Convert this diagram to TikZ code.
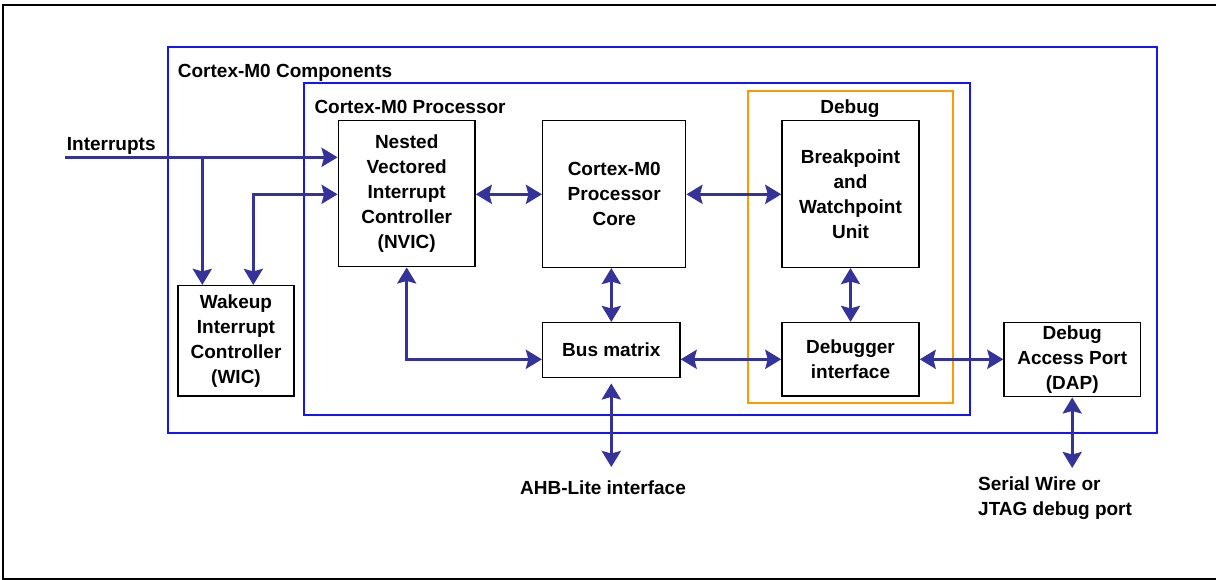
\documentclass[tikz,border=0pt]{standalone}
\usepackage{fontspec}
\setmainfont{Liberation Sans}
\usetikzlibrary{arrows.meta,calc}
\definecolor{arrowblue}{RGB}{51,51,153}
\definecolor{frameblue}{RGB}{20,20,255}
\definecolor{dbgorange}{RGB}{255,153,0}
\begin{document}
\begin{tikzpicture}[x=1pt,y=-1pt,
  box/.style={draw=black,line width=1.5pt,fill=white,inner sep=0pt,align=center,
    font=\bfseries\fontsize{19}{25}\selectfont},
  lbl/.style={inner sep=0pt,font=\bfseries\fontsize{19}{25}\selectfont},
  conn/.style={draw=arrowblue,line width=3pt},
  tipb/.tip={Stealth[length=16pt,width=19pt,inset=2.5pt]},
  bi/.style={conn,tipb-tipb},
  uni/.style={conn,-tipb}]
\useasboundingbox (0,0) rectangle (1216,580);
% outer frame
\draw[line width=2pt] (1217,5) -- (3,5) -- (3,579) -- (1217,579);
% grouping frames
\draw[frameblue,line width=2pt] (167.7,46.7) rectangle (1157.3,432.7);
\draw[frameblue,line width=2pt] (304,83.3) rectangle (970,415);
\draw[dbgorange,line width=2pt] (748,91) rectangle (952.7,403.3);
% group labels
\node[lbl,anchor=base west] (lcomp) at (177.7,77.3) {Cortex-M0 Components};
\node[lbl,anchor=base west] (lproc) at (314.3,113.3) {Cortex-M0 Processor};
\node[lbl,anchor=base] (ldbg) at (850,113.3) {Debug};
% blocks
\node[box,minimum width=136.7pt,minimum height=146pt] (nvic) at (406.7,193.7)
  {Nested\\Vectored\\Interrupt\\Controller\\(NVIC)};
\node[box,minimum width=143pt,minimum height=146.6pt] (core) at (614.2,194)
  {Cortex-M0\\Processor\\Core};
\node[box,minimum width=137pt,minimum height=146.6pt] (bwu) at (850.5,194)
  {Breakpoint\\and\\Watchpoint\\Unit};
\node[box,minimum width=116pt,minimum height=110.3pt] (wic) at (236,340.8)
  {Wakeup\\Interrupt\\Controller\\(WIC)};
\node[box,minimum width=137.3pt,minimum height=55pt] (bus) at (611.3,350.2)
  {Bus matrix};
\node[box,minimum width=137pt,minimum height=73.3pt] (dbg) at (850.5,359.3)
  {Debugger\\interface};
\node[box,minimum width=136.3pt,minimum height=74pt] (dap) at (1072.2,359.7)
  {Debug\\Access Port\\(DAP)};
% external labels
\node[lbl,anchor=base west] (lirq) at (66.7,150.7) {Interrupts};
\node[lbl,anchor=base] (lahb) at (603,494) {AHB-Lite interface};
\node[lbl,anchor=base west,align=left] (lswd) at (978,515) {Serial Wire or\\JTAG debug port};
% free ends
\coordinate (irq) at (65,157.3);
\coordinate (split) at (202.3,157.3);
\coordinate (wicc) at (253.3,194.3);
\coordinate (ahb) at (611.3,467);
\coordinate (swd) at (1072.2,468);
% connectors
\draw[uni] (irq) -- (irq -| nvic.west);
\draw[uni] (split) -- (split |- wic.north);
\draw[bi] (wicc |- wic.north) -- (wicc) -- (wicc -| nvic.west);
\draw[bi] (nvic.east |- wicc) -- (core.west |- wicc);
\draw[bi] (core.east |- wicc) -- (bwu.west |- wicc);
\draw[bi] (bus.north) -- (bus.north |- core.south);
\draw[bi] (nvic.south) |- (bus.west |- dbg.west);
\draw[bi] (bus.east |- dbg.west) -- (dbg.west);
\draw[bi] (bwu.south) -- (dbg.north);
\draw[bi] (dbg.east) -- (dap.west |- dbg.east);
\draw[bi,shorten <=5pt] (bus.south) -- (ahb);
\draw[bi] (dap.south) -- (swd);
\end{tikzpicture}
\end{document}
